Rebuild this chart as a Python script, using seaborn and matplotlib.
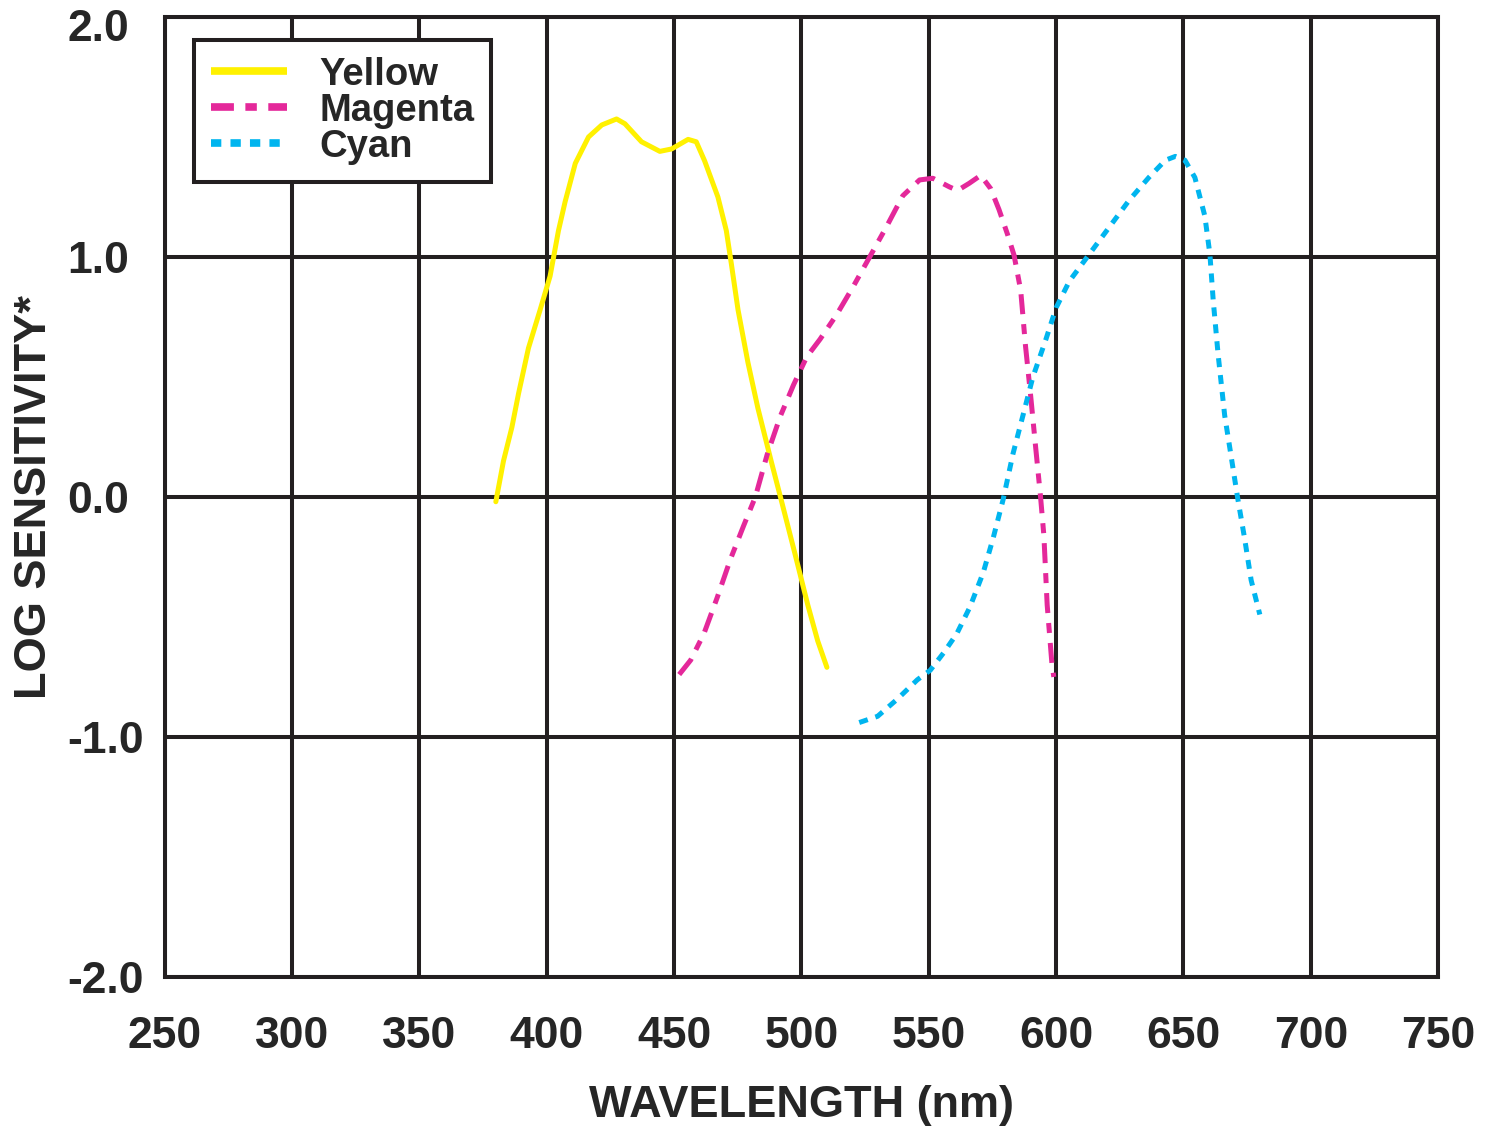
import pandas as pd
import seaborn as sns
import matplotlib.pyplot as plt
from matplotlib.lines import Line2D
from matplotlib.transforms import ScaledTranslation

# values
yellow_nm = [380, 383, 386.3, 388.9, 392.8, 397.4, 401.3, 404.6, 407.2, 411.2, 416.4, 421.6, 427.4,
             430.7, 437.2, 444.4, 449, 455.5, 458.7, 462, 467.2, 470.5, 472.5, 475.1, 479, 482.9,
             488.1, 492, 497.3, 502.5, 506.4, 510]
yellow_log = [-0.02, 0.15, 0.29, 0.43, 0.62, 0.78, 0.92, 1.11, 1.23, 1.39, 1.50, 1.55, 1.575,
              1.555, 1.48, 1.44, 1.45, 1.49, 1.48, 1.40, 1.25, 1.11, 0.97, 0.78, 0.56, 0.37,
              0.15, -0.01, -0.23, -0.45, -0.60, -0.71]

magenta_nm = [452, 456.5, 461.7, 466.9, 472.1, 477.3, 481.9, 486.5, 491.7, 496.9, 502.1, 507.3,
              513.8, 520.3, 526.8, 533.3, 539.8, 546.4, 551.6, 558.1, 561.3, 565.9, 570.4, 574.3,
              577.6, 580.9, 583.5, 586.1, 588, 590, 592, 593.9, 595.2, 596.5, 598.4, 599.1]
magenta_log = [-0.74, -0.68, -0.57, -0.42, -0.26, -0.12, 0.0, 0.175, 0.336, 0.467, 0.584, 0.657,
               0.759, 0.876, 1.0, 1.124, 1.255, 1.321, 1.328, 1.292, 1.277, 1.307, 1.34, 1.285,
               1.197, 1.095, 1.007, 0.861, 0.628, 0.423, 0.204, 0.0, -0.16, -0.45, -0.70, -0.75]

cyan_nm = [522.7, 529.9, 537.7, 545.5, 550.6, 555.8, 561, 566.2, 571.4, 575.3, 579.2, 583.1, 587,
           590.9, 596.1, 600, 605.2, 613, 620.8, 628.6, 636.4, 642.9, 646.8, 650.6, 654.5, 658.4,
           660.4, 661.7, 663.6, 666.2, 668.8, 671.4, 674, 676.6, 680]
cyan_log = [-0.94, -0.914, -0.842, -0.762, -0.722, -0.65, -0.57, -0.458, -0.315, -0.171, -0.011,
            0.181, 0.34, 0.5, 0.66, 0.788, 0.899, 1.011, 1.123, 1.235, 1.331, 1.403, 1.419, 1.403,
            1.331, 1.171, 1.011, 0.819, 0.596, 0.34, 0.165, -0.011, -0.171, -0.347, -0.49]

x_ticks = [250, 300, 350, 400, 450, 500, 550, 600, 650, 700, 750]
y_ticks = [-2.0, -1.0, 0.0, 1.0, 2.0]

sns.set_style("white")
plt.rcParams['font.family'] = ['Liberation Sans', 'DejaVu Sans']
plt.rcParams['font.weight'] = 'bold'

ink = '#231F20'
colors = {'Yellow': '#FFF100', 'Magenta': '#E4289A', 'Cyan': '#00B5EF'}
# dash patterns in units of line width
dashes = {'Yellow': None, 'Magenta': (4.0, 2.0, 2.0, 2.0), 'Cyan': (1.8, 1.6)}

fig = plt.figure(figsize=(14.98, 11.32), dpi=100)
ax = fig.add_axes([0.110, 0.137, 0.850, 0.848])

series = {
    'Yellow': (yellow_nm, yellow_log),
    'Magenta': (magenta_nm, magenta_log),
    'Cyan': (cyan_nm, cyan_log),
}
for name, (xs, ys) in series.items():
    df = pd.DataFrame({'nm': xs, 'log': ys})
    sns.lineplot(data=df, x='nm', y='log', sort=False, estimator=None, color=colors[name],
                 linewidth=3.6, ax=ax, zorder=3)
    line = ax.lines[-1]
    line.set_dash_capstyle('butt')
    line.set_solid_capstyle('round')
    line.set_solid_joinstyle('round')
    if dashes[name] is not None:
        line.set_dashes(dashes[name])

ax.set_xlim(250, 750)
ax.set_ylim(-2.0, 2.0)
ax.set_xticks(x_ticks)
ax.set_yticks(y_ticks)
ax.set_xticklabels([str(t) for t in x_ticks])
ax.set_yticklabels(['%.1f' % t for t in y_ticks])
ax.tick_params(length=0, labelsize=32)
ax.tick_params(axis='x', pad=28)
ax.tick_params(axis='y', pad=70)
for lab in ax.get_xticklabels() + ax.get_yticklabels():
    lab.set_fontweight('bold')
ylabs = ax.get_yticklabels()
for lab in ylabs:
    lab.set_horizontalalignment('left')
# top label sits a bit lower in the original
ylabs[-1].set_transform(ylabs[-1].get_transform() + ScaledTranslation(0, -8 / 100, fig.dpi_scale_trans))

ax.grid(True, color=ink, linewidth=2.9, zorder=1)
ax.set_axisbelow(True)
for sp in ax.spines.values():
    sp.set_color(ink)
    sp.set_linewidth(2.9)

ax.set_xlabel('WAVELENGTH (nm)', fontsize=32.5, fontweight='bold', labelpad=20)
ax.set_ylabel('LOG SENSITIVITY*', fontsize=32.5, fontweight='bold')
ax.yaxis.set_label_coords(-0.086, 0.5)

handles = []
for name in series:
    h = Line2D([], [], color=colors[name], linewidth=5.5, solid_capstyle='butt',
               dash_capstyle='butt')
    if dashes[name] is not None:
        h.set_dashes([d * 0.75 for d in dashes[name]])
    handles.append(h)
leg = ax.legend(handles, list(series), loc='upper left', bbox_to_anchor=(0.0228, 0.976),
                borderaxespad=0, fancybox=False, framealpha=1, edgecolor=ink,
                prop={'size': 27.5, 'weight': 'bold'}, handlelength=2.0, handletextpad=0.85,
                labelspacing=0.0, borderpad=0.44)
leg.get_frame().set_linewidth(2.9)
leg.set_zorder(5)

fig.savefig('out.png', dpi=100)
